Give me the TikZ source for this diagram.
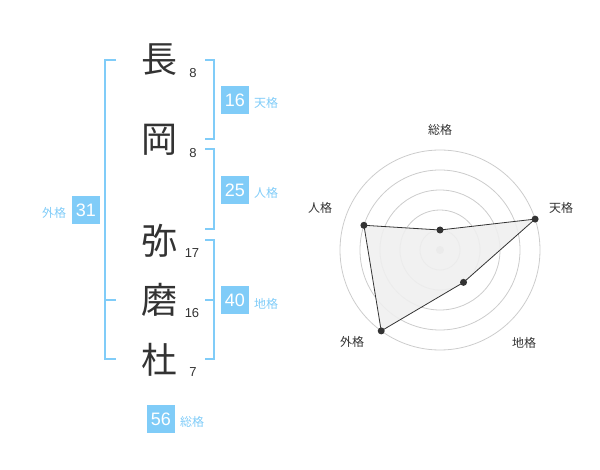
\documentclass[tikz,border=0pt]{standalone}
\usepackage{fontspec}
\setmainfont{Liberation Sans}
\newfontfamily\jpfont{Noto Sans CJK JP}
\definecolor{kakublue}{HTML}{80CCF8}
\definecolor{textgray}{HTML}{333333}
\definecolor{ringgray}{HTML}{CCCCCC}
\definecolor{polyfill}{HTML}{EFEFEF}

\begin{document}
\begin{tikzpicture}[x=1pt,y=-1pt,
    name_char/.style={font=\jpfont\fontsize{36}{36}\selectfont, text=textgray, inner sep=0},
    stroke_num/.style={font=\fontsize{13}{13}\selectfont, text=textgray, inner sep=0},
    kaku_box/.style={fill=kakublue, text=white, minimum size=28pt, inner sep=0, font=\fontsize{18}{18}\selectfont},
    kaku_label/.style={font=\jpfont\fontsize{12}{12}\selectfont, text=kakublue, inner sep=0},
    axis_label/.style={font=\jpfont\fontsize{12}{12}\selectfont, text=textgray, inner sep=0},
    bracket/.style={draw=kakublue, line width=2pt},
    ring/.style={draw=ringgray, line width=0.8pt},
    dot/.style={circle, fill=textgray, minimum size=7pt, inner sep=0}]

    \useasboundingbox (0,0) rectangle (600,470);

    % name characters and stroke counts
    \node[name_char] (c1) at (159,60) {長};
    \node[name_char] (c2) at (159,140) {岡};
    \node[name_char] (c3) at (159,241) {弥};
    \node[name_char] (c4) at (159,300) {磨};
    \node[name_char] (c5) at (159,360) {杜};

    \node[stroke_num] (n1) at (193,73) {8};
    \node[stroke_num] (n2) at (193,153) {8};
    \node[stroke_num] (n3) at (192,253) {17};
    \node[stroke_num] (n4) at (192,313) {16};
    \node[stroke_num] (n5) at (193,372) {7};

    % brackets
    \draw[bracket] (116,60) -- (105,60) -- (105,359) -- (116,359);
    \draw[bracket] (105,300) -- (116,300);
    \draw[bracket] (205,60) -- (214,60) -- (214,139) -- (205,139);
    \draw[bracket] (205,149) -- (214,149) -- (214,229) -- (205,229);
    \draw[bracket] (205,240) -- (214,240) -- (214,359) -- (205,359);
    \draw[bracket] (205,300) -- (214,300);

    % boxes
    \node[kaku_box] (ten) at (235,100) {16};
    \node[kaku_box] (jin) at (235,190) {25};
    \node[kaku_box] (chi) at (235,300) {40};
    \node[kaku_box] (gai) at (86,210) {31};
    \node[kaku_box] (sou) at (161,419) {56};

    \node[kaku_label] (ten_l) at (266,103) {天格};
    \node[kaku_label] (jin_l) at (266,193) {人格};
    \node[kaku_label] (chi_l) at (266,304) {地格};
    \node[kaku_label] (gai_l) at (54,213) {外格};
    \node[kaku_label] (sou_l) at (192,422) {総格};

    % radar
    \begin{scope}[shift={(440,250)}, y=1pt]
        \foreach \r in {20,40,60,80,100}
            \draw[ring] (0,0) circle (\r);
        \fill[ringgray] (0,0) circle (4);

        \coordinate (p_sou) at (90:20);
        \coordinate (p_ten) at (18:100);
        \coordinate (p_chi) at (-54:40);
        \coordinate (p_gai) at (-126:100);
        \coordinate (p_jin) at (162:80);

        \fill[polyfill, opacity=0.9] (p_sou) -- (p_ten) -- (p_chi) -- (p_gai) -- (p_jin) -- cycle;
        \draw[textgray, line width=0.8pt] (p_sou) -- (p_ten) -- (p_chi) -- (p_gai) -- (p_jin) -- cycle;

        \node[dot] (d_sou) at (p_sou) {};
        \node[dot] (d_ten) at (p_ten) {};
        \node[dot] (d_chi) at (p_chi) {};
        \node[dot] (d_gai) at (p_gai) {};
        \node[dot] (d_jin) at (p_jin) {};
    \end{scope}

    \node[axis_label] (a_sou) at (440,130) {総格};
    \node[axis_label] (a_ten) at (561,208) {天格};
    \node[axis_label] (a_chi) at (524,343) {地格};
    \node[axis_label] (a_gai) at (352,342) {外格};
    \node[axis_label] (a_jin) at (320,208) {人格};

\end{tikzpicture}
\end{document}
